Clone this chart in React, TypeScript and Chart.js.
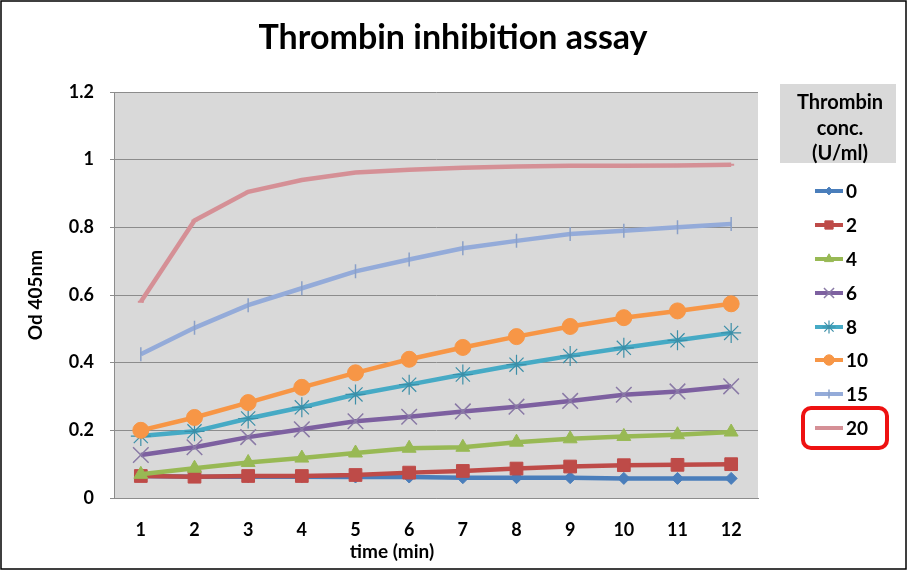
import React, { useEffect, useRef } from "react";
import { Chart, registerables } from "chart.js";
import { drawPoint } from "chart.js/helpers";

Chart.register(...registerables);

const categories = ["1", "2", "3", "4", "5", "6", "7", "8", "9", "10", "11", "12"];
const seriesLabels = ["0", "2", "4", "6", "8", "10", "15", "20"];
const yTicks = [0, 0.2, 0.4, 0.6, 0.8, 1, 1.2];

const conc0 = [0.065, 0.063, 0.063, 0.063, 0.062, 0.062, 0.06, 0.06, 0.06, 0.058, 0.058, 0.058];
const conc2 = [0.065, 0.063, 0.065, 0.065, 0.068, 0.075, 0.08, 0.087, 0.093, 0.097, 0.098, 0.1];
const conc4 = [0.07, 0.088, 0.105, 0.118, 0.133, 0.147, 0.15, 0.165, 0.175, 0.182, 0.187, 0.195];
const conc6 = [0.127, 0.15, 0.18, 0.203, 0.227, 0.24, 0.256, 0.27, 0.287, 0.305, 0.315, 0.33];
const conc8 = [0.183, 0.197, 0.235, 0.268, 0.306, 0.335, 0.365, 0.394, 0.42, 0.444, 0.466, 0.488];
const conc10 = [0.2, 0.238, 0.282, 0.327, 0.37, 0.41, 0.445, 0.477, 0.507, 0.533, 0.553, 0.574];
const conc15 = [0.425, 0.503, 0.57, 0.62, 0.67, 0.705, 0.738, 0.76, 0.78, 0.79, 0.8, 0.81];
const conc20 = [0.58, 0.82, 0.905, 0.94, 0.962, 0.97, 0.976, 0.98, 0.982, 0.982, 0.983, 0.985];

const seriesValues = [conc0, conc2, conc4, conc6, conc8, conc10, conc15, conc20];

const chartTitle = "Thrombin inhibition assay";
const xTitle = "time (min)";
const yTitle = "Od 405nm";
const legendTitle = ["Thrombin", "conc.", "(U/ml)"];

const lineColors = ["#4a7ebb", "#be4b48", "#98b954", "#7d60a0", "#46aac5", "#f79646", "#94abd9", "#d59096"];
const markerBorders = ["#4a7ebb", "#be4b48", "#98b954", "#8a7aa6", "#3c8fa8", "#f79646", "#8aa0c8", "#d59096"];
const markerStyles = ["rectRot", "rect", "triangle", "crossRot", "star", "circle", "line", "line"];
const markerRadius = [6, 9, 8, 11, 10, 8, 7, 3];
const markerRotation = [0, 0, 0, 0, 0, 0, 90, 0];
const markerBorderWidth = [1, 1, 1, 1.5, 1.2, 1, 1.5, 2];

const FONT = "Lato";

const decorPlugin = {
  id: "decor",
  beforeDraw(chart: any) {
    const { ctx, chartArea } = chart;
    ctx.save();
    ctx.fillStyle = "#ffffff";
    ctx.fillRect(0, 0, chart.width, chart.height);
    ctx.fillStyle = "#d9d9d9";
    ctx.fillRect(chartArea.left, chartArea.top, chartArea.right - chartArea.left, chartArea.bottom - chartArea.top);
    ctx.restore();
  },
  afterDraw(chart: any) {
    const { ctx } = chart;
    ctx.save();
    ctx.fillStyle = "#000000";
    ctx.font = `bold 34px ${FONT}`;
    ctx.textAlign = "center";
    ctx.textBaseline = "alphabetic";
    ctx.fillText(chartTitle, 453, 49);
    ctx.font = `bold 19px ${FONT}`;
    ctx.textBaseline = "middle";
    ctx.fillText(xTitle, 392, 552);
    ctx.strokeStyle = "#000000";
    ctx.lineWidth = 1.5;
    ctx.strokeRect(1, 1, chart.width - 2, chart.height - 2);
    ctx.restore();
  },
};

const legendPlugin = {
  id: "customLegend",
  afterDraw(chart: any) {
    const { ctx } = chart;
    ctx.save();
    ctx.fillStyle = "#d9d9d9";
    ctx.fillRect(780, 84, 116, 79);
    ctx.fillStyle = "#000000";
    ctx.font = `bold 20px ${FONT}`;
    ctx.textAlign = "center";
    ctx.textBaseline = "middle";
    const ty = [103, 129, 154];
    legendTitle.forEach((t, i) => ctx.fillText(t, 840, ty[i]));

    const ys = [191, 225, 259, 293, 327, 360, 394, 428];
    chart.data.datasets.forEach((ds: any, i: number) => {
      const y = ys[i];
      ctx.strokeStyle = ds.borderColor;
      ctx.lineWidth = 4;
      ctx.beginPath();
      ctx.moveTo(815, y);
      ctx.lineTo(843, y);
      ctx.stroke();
      if (i < 7) {
        ctx.fillStyle = ds.pointBackgroundColor;
        ctx.strokeStyle = ds.pointBorderColor;
        ctx.lineWidth = ds.pointBorderWidth;
        drawPoint(ctx, {
          pointStyle: ds.pointStyle,
          radius: ds.pointRadius * 0.65,
          rotation: ds.pointRotation,
          borderWidth: ds.pointBorderWidth,
        } as any, 829, y);
      }
      ctx.fillStyle = "#000000";
      ctx.font = `bold 19px ${FONT}`;
      ctx.textAlign = "left";
      ctx.textBaseline = "middle";
      ctx.fillText(ds.label, 846, y + 1);
    });

    ctx.strokeStyle = "#ee1111";
    ctx.lineWidth = 4;
    ctx.beginPath();
    (ctx as any).roundRect(803, 408, 84, 40, 8);
    ctx.stroke();
    ctx.restore();
  },
};

export default function App() {
  const ref = useRef<HTMLCanvasElement | null>(null);

  useEffect(() => {
    document.body.style.margin = "0";
    const canvas = ref.current;
    if (!canvas) return;
    const n = seriesLabels.length;
    const datasets = seriesLabels.map((label, i) => ({
      label,
      data: seriesValues[i],
      borderColor: lineColors[i],
      backgroundColor: lineColors[i],
      borderWidth: 4.5,
      tension: 0,
      pointStyle: markerStyles[i],
      pointRadius: markerRadius[i],
      pointRotation: markerRotation[i],
      pointBackgroundColor: lineColors[i],
      pointBorderColor: markerBorders[i],
      pointBorderWidth: markerBorderWidth[i],
      order: n - 1 - i,
    }));

    const chart = new Chart(canvas, {
      type: "line",
      data: { labels: categories, datasets },
      options: {
        animation: false,
        responsive: false,
        devicePixelRatio: 1,
        layout: { padding: { left: 0, right: 149, top: 92, bottom: 0 } },
        plugins: {
          legend: { display: false },
          tooltip: { enabled: false },
          title: { display: false },
        },
        scales: {
          x: {
            type: "category",
            offset: true,
            grid: { display: false, drawTicks: false },
            border: { display: true, color: "#8c8c8c" },
            ticks: {
              color: "#000000",
              font: { family: FONT, size: 18, weight: "bold" },
              padding: 21,
            },
            afterFit(scale: any) {
              scale.height = 72;
            },
          },
          y: {
            min: 0,
            max: 1.2,
            afterBuildTicks(scale: any) {
              scale.ticks = yTicks.map((v) => ({ value: v }));
            },
            grid: { color: "#8c8c8c", lineWidth: 1, tickLength: 4, drawTicks: true },
            border: { display: true, color: "#8c8c8c" },
            ticks: {
              color: "#000000",
              font: { family: FONT, size: 18, weight: "bold" },
              padding: 16,
              callback: (v: any) => String(Number(Number(v).toFixed(1))),
            },
            title: {
              display: true,
              text: yTitle,
              color: "#000000",
              font: { family: FONT, size: 19, weight: "bold" },
              padding: { top: 24, bottom: 0 },
            },
            afterFit(scale: any) {
              scale.width = 114;
            },
          },
        },
      },
      plugins: [decorPlugin, legendPlugin],
    } as any);

    return () => chart.destroy();
  }, []);

  return (
    <div style={{ width: 907, height: 570 }}>
      <canvas ref={ref} width={907} height={570} style={{ display: "block", width: 907, height: 570 }} />
    </div>
  );
}
